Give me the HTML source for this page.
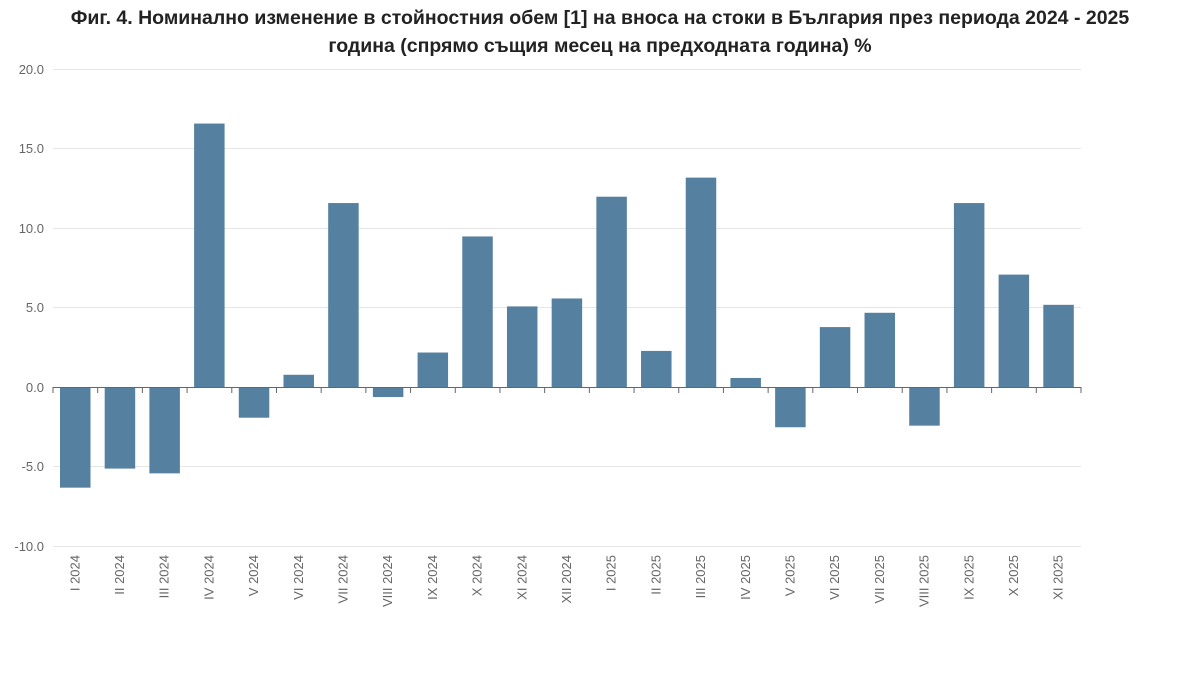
<!DOCTYPE html>
<html><head><meta charset="utf-8"><style>
body{margin:0;background:#fff;width:1200px;height:692px;overflow:hidden}
</style></head><body>
<svg width="1200" height="692" xmlns="http://www.w3.org/2000/svg" font-family="Liberation Sans, DejaVu Sans, sans-serif">
<text x="600" y="24" text-anchor="middle" font-size="19.5" font-weight="bold" fill="#222">Фиг. 4. Номинално изменение в стойностния обем [1] на вноса на стоки в България през периода 2024 - 2025</text>
<text x="600" y="52" text-anchor="middle" font-size="19.5" font-weight="bold" fill="#222">година (спрямо същия месец на предходната година) %</text>
<g stroke="#e6e6e6" stroke-width="1">
<line x1="53" x2="1081" y1="69.5" y2="69.5"/><line x1="53" x2="1081" y1="148.5" y2="148.5"/><line x1="53" x2="1081" y1="228.5" y2="228.5"/><line x1="53" x2="1081" y1="307.5" y2="307.5"/><line x1="53" x2="1081" y1="466.5" y2="466.5"/><line x1="53" x2="1081" y1="546.5" y2="546.5"/>
</g>
<g font-size="13" fill="#666" text-anchor="end">
<text x="44" y="74">20.0</text><text x="44" y="153">15.0</text><text x="44" y="233">10.0</text><text x="44" y="312">5.0</text><text x="44" y="392">0.0</text><text x="44" y="471">-5.0</text><text x="44" y="551">-10.0</text>
</g>
<g id="bars" fill="#55809f"></g>
<line x1="53" x2="1081" y1="387.5" y2="387.5" stroke="#666"/>
<g id="ticks" stroke="#666"></g>
<g id="labels" font-size="13" fill="#666"></g>
</svg>
<script>
var v=[-6.3,-5.1,-5.4,16.6,-1.9,0.8,11.6,-0.6,2.2,9.5,5.1,5.6,12.0,2.3,13.2,0.6,-2.5,3.8,4.7,-2.4,11.6,7.1,5.2];
var n=["I 2024","II 2024","III 2024","IV 2024","V 2024","VI 2024","VII 2024","VIII 2024","IX 2024","X 2024","XI 2024","XII 2024","I 2025","II 2025","III 2025","IV 2025","V 2025","VI 2025","VII 2025","VIII 2025","IX 2025","X 2025","XI 2025"];
var ns="http://www.w3.org/2000/svg",s=15.9,y0=387.5,w=1028/23;
var b=document.getElementById("bars"),t=document.getElementById("ticks"),l=document.getElementById("labels");
function el(p,tag,a){var e=document.createElementNS(ns,tag);for(var k in a)e.setAttribute(k,a[k]);p.appendChild(e);return e;}
for(var i=0;i<23;i++){var x=53+i*w,h=Math.abs(v[i])*s;
el(b,"rect",{x:x+7,width:30.5,y:v[i]>0?y0-h:y0,height:h});
el(t,"line",{x1:x,x2:x,y1:387,y2:393});
var cx=x+w/2+4;var tx=el(l,"text",{x:0,y:0,"text-anchor":"end",transform:"translate("+cx+",555) rotate(-90)"});tx.textContent=n[i];}
el(t,"line",{x1:1081,x2:1081,y1:387,y2:393});
</script>
</body></html>
